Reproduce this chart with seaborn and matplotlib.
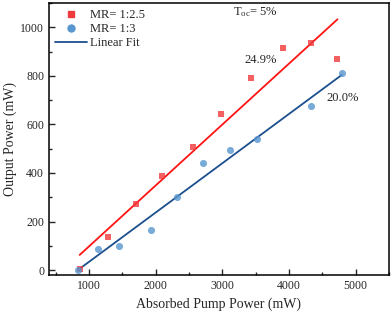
import numpy as np
import pandas as pd
import matplotlib
matplotlib.use("Agg")
import matplotlib.pyplot as plt
import seaborn as sns
from matplotlib.ticker import MultipleLocator

# MR = 1:2.5
pump_a = [860, 1287, 1705, 2094, 2557, 2976, 3434, 3918, 4330, 4729]
power_a = [5, 135, 272, 386, 508, 643, 792, 914, 937, 870]
# MR = 1:3
pump_b = [833, 1132, 1445, 1930, 2318, 2707, 3115, 3514, 4336, 4794]
power_b = [0, 86, 99, 166, 302, 439, 493, 540, 676, 810]

df_a = pd.DataFrame({"pump": pump_a, "power": power_a})
df_b = pd.DataFrame({"pump": pump_b, "power": power_b})

sns.set_style("ticks")
plt.rcParams['font.family'] = ['Liberation Serif', 'DejaVu Serif']
plt.rcParams['mathtext.fontset'] = 'custom'
plt.rcParams['mathtext.rm'] = 'Liberation Serif'

fig = plt.figure(figsize=(3.92, 3.16), dpi=100)
ax = fig.add_axes([0.125, 0.13, 0.867, 0.8605])

red_pt = "#f03a3c"
red_ln = "#ff1414"
blue_pt = "#5896d0"
blue_ln = "#1c4f8e"

sns.regplot(data=df_a, x="pump", y="power", ax=ax, ci=None, marker="s",
            scatter_kws=dict(s=22, color=red_pt, linewidths=0, zorder=3),
            line_kws=dict(color=red_ln, lw=1.3, zorder=2))
sns.regplot(data=df_b, x="pump", y="power", ax=ax, ci=None, marker="o",
            scatter_kws=dict(s=26, color=blue_pt, linewidths=0, zorder=3),
            line_kws=dict(color=blue_ln, lw=1.3, zorder=2))

ax.set_xlim(400, 5500)
ax.set_ylim(-20, 1100)
ax.xaxis.set_major_locator(MultipleLocator(1000))
ax.xaxis.set_minor_locator(MultipleLocator(500))
ax.yaxis.set_major_locator(MultipleLocator(200))
ax.yaxis.set_minor_locator(MultipleLocator(100))
ax.tick_params(which="both", direction="in", labelsize=8.5, width=1)
ax.tick_params(which="major", length=4)
ax.tick_params(which="minor", length=2.5)
for s in ax.spines.values():
    s.set_linewidth(1.1)
    s.set_color("black")

ax.set_xlabel("Absorbed Pump Power (mW)", fontsize=10)
ax.set_ylabel("Output Power (mW)", fontsize=10, labelpad=2)

h1 = plt.Line2D([], [], ls="", marker="s", ms=5, color=red_pt)
h2 = plt.Line2D([], [], ls="", marker="o", ms=5, color=blue_pt)
h3 = plt.Line2D([], [], color=blue_ln, lw=1.3)
ax.legend([h1, h2, h3], ["MR= 1:2.5", "MR= 1:3", "Linear Fit"], loc="upper left",
          frameon=False, fontsize=9, handlelength=2.5, handletextpad=0.3,
          borderaxespad=0.2, labelspacing=0.15, borderpad=0.3)

ax.text(0.54, 0.955, r"$\mathregular{T_{oc}}$= 5%", transform=ax.transAxes, fontsize=9)
ax.text(0.575, 0.78, "24.9%", transform=ax.transAxes, fontsize=9)
ax.text(0.815, 0.64, "20.0%", transform=ax.transAxes, fontsize=9)

fig.savefig("out.png", dpi=100)
